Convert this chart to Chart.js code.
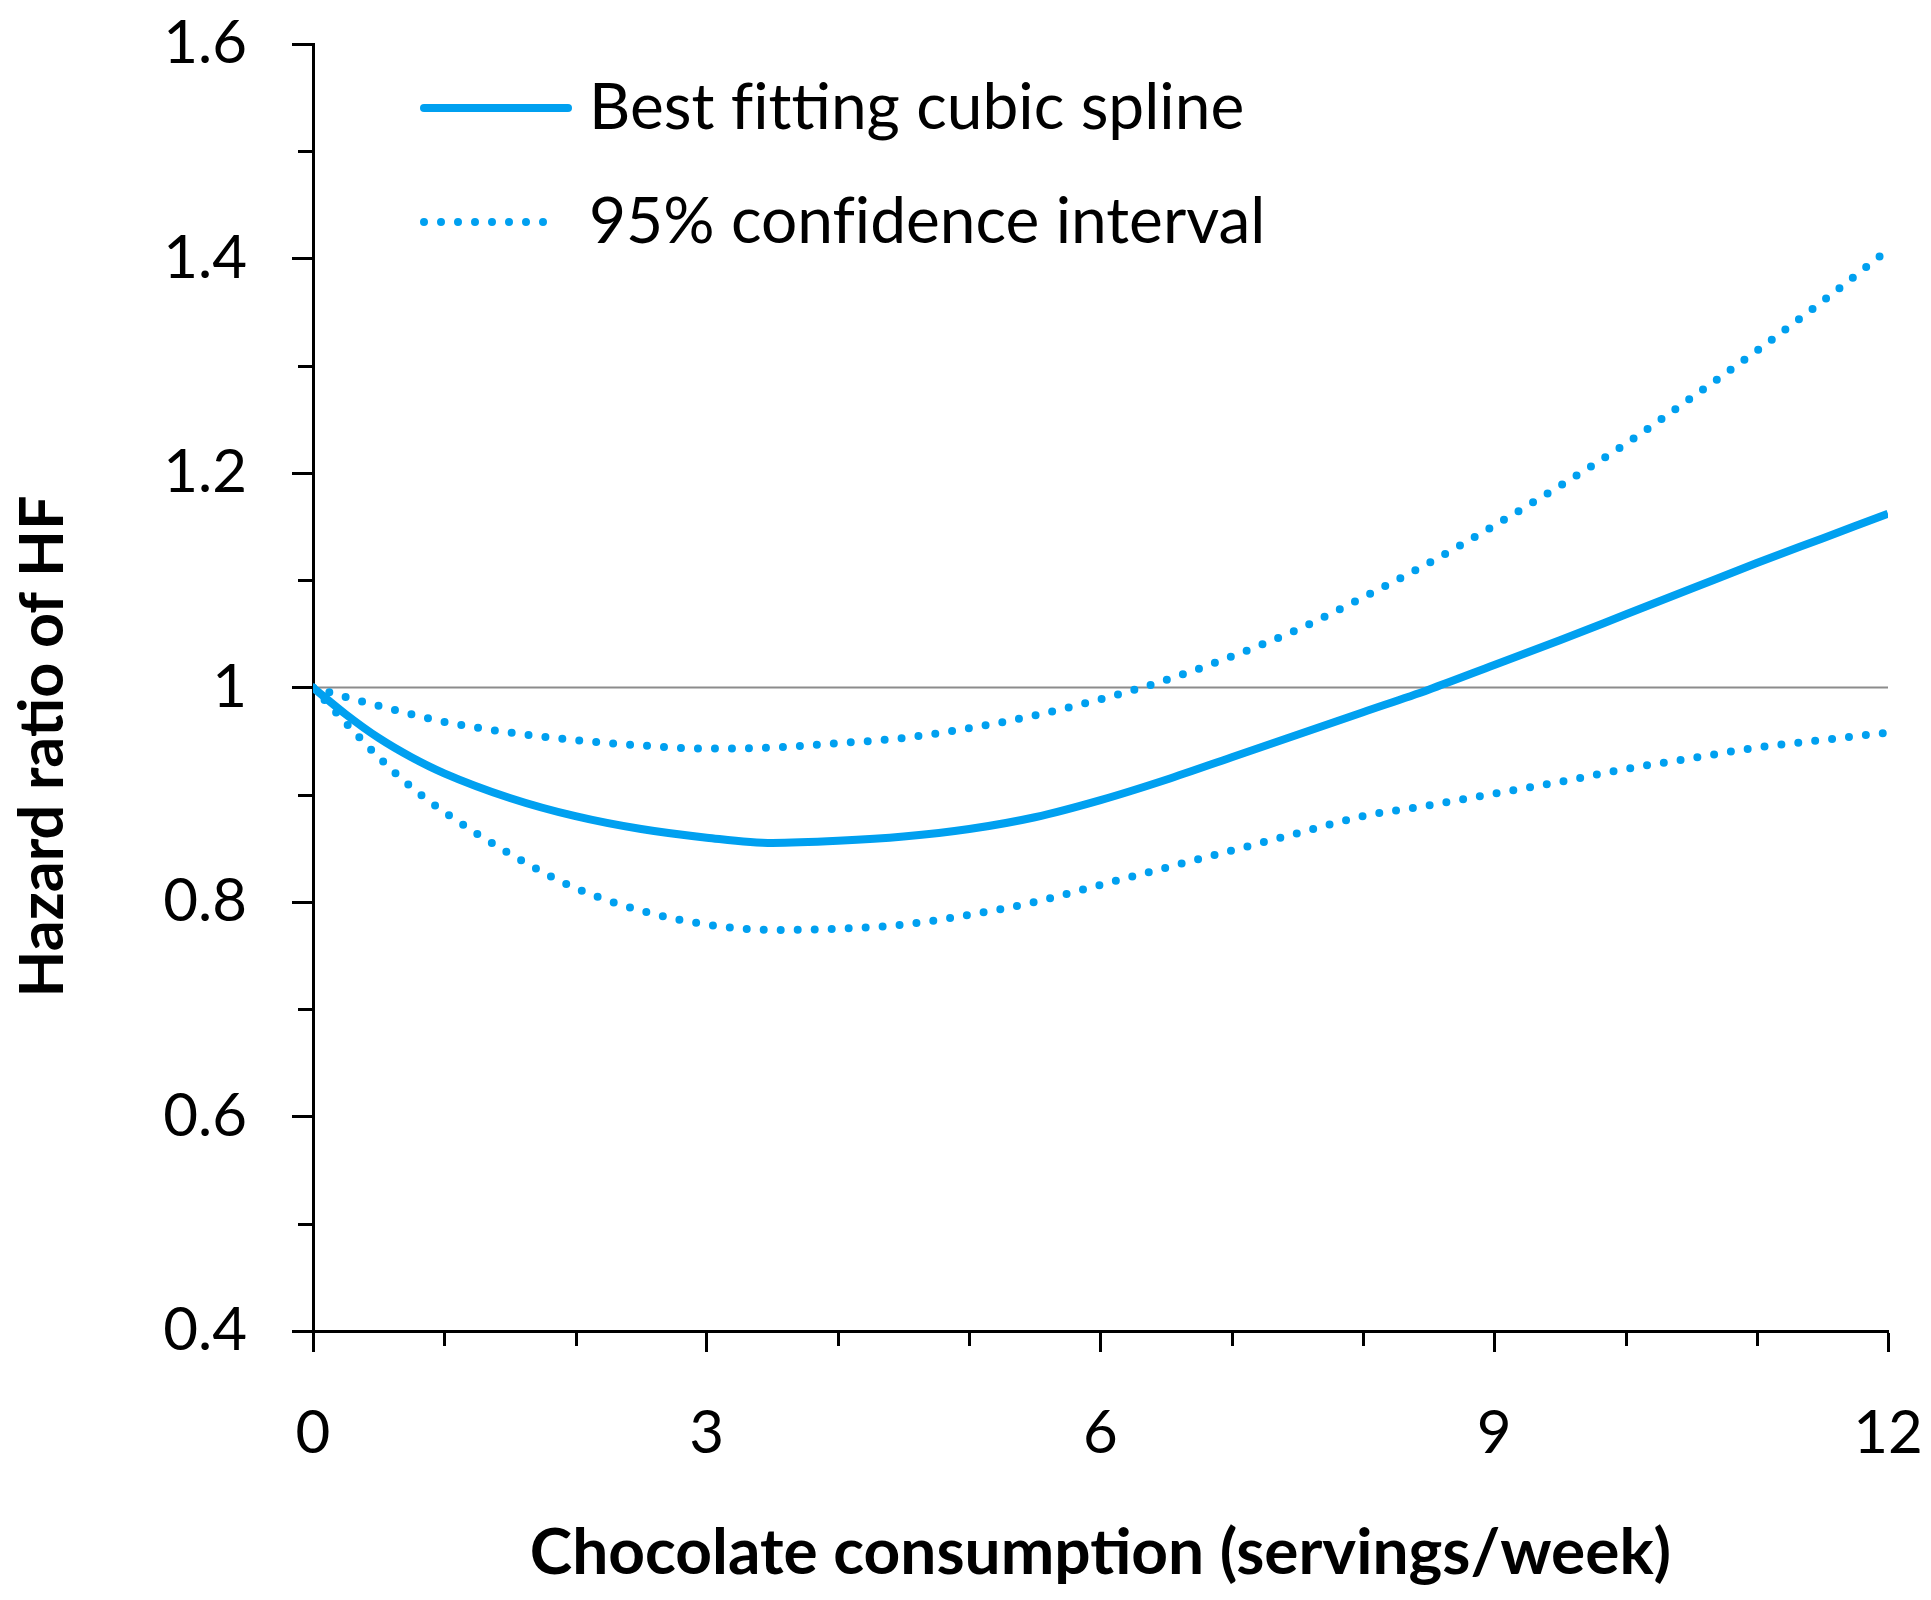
<!DOCTYPE html>
<html>
<head>
<meta charset="utf-8">
<script src="https://cdn.jsdelivr.net/npm/chart.js@4.4.1/dist/chart.umd.min.js"></script>
<style>
  html, body { margin: 0; padding: 0; background: #fff; }
  #box { width: 1931px; height: 1600px; }
</style>
</head>
<body>
<div id="box"><canvas id="grafico"></canvas></div>
<script>
// Dados
const consumo    = [0, 0.25, 0.5, 0.75, 1, 1.5, 2, 2.5, 3, 3.5, 4, 4.5, 5, 5.5, 6, 6.5, 7, 7.5, 8, 8.5, 9, 9.5, 10, 10.5, 11, 11.5, 12];
const hrSpline   = [1.000, 0.975, 0.953, 0.935, 0.920, 0.897, 0.880, 0.868, 0.860, 0.855, 0.857, 0.861, 0.868, 0.879, 0.895, 0.914, 0.935, 0.956, 0.977, 0.998, 1.021, 1.044, 1.068, 1.092, 1.116, 1.139, 1.162];
const hrSuperior = [1.000, 0.991, 0.983, 0.975, 0.968, 0.958, 0.951, 0.946, 0.943, 0.944, 0.948, 0.953, 0.962, 0.974, 0.989, 1.007, 1.029, 1.054, 1.084, 1.116, 1.151, 1.188, 1.227, 1.270, 1.314, 1.360, 1.408];
const hrInferior = [1.000, 0.967, 0.935, 0.907, 0.884, 0.845, 0.813, 0.792, 0.779, 0.774, 0.775, 0.779, 0.788, 0.800, 0.816, 0.832, 0.848, 0.864, 0.880, 0.890, 0.901, 0.912, 0.924, 0.934, 0.944, 0.951, 0.958];
const linhaRef   = [0, 12];

const xTicks      = [0, 3, 6, 9, 12];
const xTicksMenor = [1, 2, 4, 5, 7, 8, 10, 11];
const yTicks      = [0.4, 0.6, 0.8, 1, 1.2, 1.4, 1.6];
const yTickLabels = ['0.4', '0.6', '0.8', '1', '1.2', '1.4', '1.6'];
const yTicksMenor = [0.5, 0.7, 0.9, 1.1, 1.3, 1.5];

// \u200C evita as ligaduras fi / ti / tt da Lato
const tituloX = 'Chocolate consump\u200Ction (servings/week)';
const tituloY = 'Hazard ra\u200Ctio of HF';

const AZUL  = '#00a0f0';
const FONTE = 'Lato';
const PONTILHADO = [0, 17];

const pontos = serie => consumo.map((x, i) => ({ x: x, y: serie[i] }));

// Plugin: ticks menores, legenda e título do eixo Y
const extras = {
  id: 'extras',
  afterDraw(chart) {
    const ctx = chart.ctx;
    const sx = chart.scales.x, sy = chart.scales.y;
    ctx.save();
    ctx.strokeStyle = '#000';
    ctx.lineWidth = 3;
    ctx.beginPath();
    yTicksMenor.forEach(v => {
      const py = Math.round(sy.getPixelForValue(v)) + 0.5;
      ctx.moveTo(sx.left - 15, py); ctx.lineTo(sx.left, py);
    });
    xTicksMenor.forEach(v => {
      const px = Math.round(sx.getPixelForValue(v)) + 0.5;
      ctx.moveTo(px, sy.bottom); ctx.lineTo(px, sy.bottom + 15);
    });
    ctx.stroke();

    // legenda
    const itens = chart.data.datasets.filter(d => d.legenda);
    itens.forEach((d, i) => {
      const y = 108 + i * 114;
      ctx.strokeStyle = d.borderColor;
      ctx.lineWidth = d.borderWidth;
      ctx.lineCap = 'round';
      ctx.setLineDash(d.borderDash || []);
      ctx.beginPath();
      ctx.moveTo(424, y); ctx.lineTo(d.borderDash ? 558 : 568, y);
      ctx.stroke();
      ctx.setLineDash([]);
      ctx.fillStyle = '#000';
      ctx.font = '64px ' + FONTE;
      ctx.textBaseline = 'middle';
      ctx.textAlign = 'left';
      ctx.fillText(d.texto, 589, y);
    });

    // título Y
    ctx.translate(43, (chart.chartArea.top + chart.chartArea.bottom) / 2 + 59);
    ctx.rotate(-Math.PI / 2);
    ctx.font = 'bold 61px ' + FONTE;
    ctx.textAlign = 'center';
    ctx.textBaseline = 'middle';
    ctx.fillStyle = '#000';
    ctx.fillText(tituloY, 0, 0);
    ctx.restore();
  }
};

new Chart(document.getElementById('grafico').getContext('2d'), {
  type: 'line',
  data: { datasets: [
    {
      label: 'ref',
      data: linhaRef.map(x => ({ x: x, y: 1 })),
      borderColor: '#8c8c8c',
      borderWidth: 2,
      pointRadius: 0,
      order: 3
    },
    {
      label: 'Best fitting cubic spline',
      texto: 'Best f\u200Cit\u200Cting cubic spline',
      legenda: true,
      data: pontos(hrSpline),
      borderColor: AZUL,
      borderWidth: 8,
      pointRadius: 0,
      cubicInterpolationMode: 'monotone',
      order: 1
    },
    {
      label: '95% confidence interval',
      texto: '95% conf\u200Cidence interval',
      legenda: true,
      data: pontos(hrSuperior),
      borderColor: AZUL,
      borderWidth: 8,
      borderDash: PONTILHADO,
      borderCapStyle: 'round',
      pointRadius: 0,
      cubicInterpolationMode: 'monotone',
      order: 2
    },
    {
      label: '95% confidence interval (lower)',
      data: pontos(hrInferior),
      borderColor: AZUL,
      borderWidth: 8,
      borderDash: PONTILHADO,
      borderCapStyle: 'round',
      pointRadius: 0,
      cubicInterpolationMode: 'monotone',
      order: 2
    }
  ]},
  options: {
    responsive: true,
    maintainAspectRatio: false,
    devicePixelRatio: 1,
    animation: false,
    layout: { padding: { top: 44, right: 43, left: 0, bottom: 0 } },
    plugins: { legend: { display: false }, tooltip: { enabled: false } },
    scales: {
      x: {
        type: 'linear', min: 0, max: 12,
        afterBuildTicks: s => { s.ticks = xTicks.map(v => ({ value: v })); },
        afterFit: s => { s.height = 269; s.paddingLeft = 0; s.paddingRight = 0; },
        grid: { drawOnChartArea: false, tickLength: 21, tickWidth: 3, tickColor: '#000' },
        border: { color: '#000', width: 3 },
        ticks: { color: '#000', padding: 46, maxRotation: 0, font: { size: 60, family: FONTE } },
        title: { display: true, text: tituloX, color: '#000',
                 font: { size: 64, weight: 'bold', family: FONTE }, padding: { top: 0, bottom: 8 } }
      },
      y: {
        type: 'linear', min: 0.4, max: 1.6,
        afterBuildTicks: s => { s.ticks = yTicks.map(v => ({ value: v })); },
        afterFit: s => { s.width = 313; s.paddingTop = 0; s.paddingBottom = 0; },
        grid: { drawOnChartArea: false, tickLength: 21, tickWidth: 3, tickColor: '#000' },
        border: { color: '#000', width: 3 },
        ticks: { color: '#000', padding: 45, font: { size: 60, family: FONTE },
                 callback: (v, i) => yTickLabels[i] }
      }
    }
  },
  plugins: [extras]
});
</script>
</body>
</html>
